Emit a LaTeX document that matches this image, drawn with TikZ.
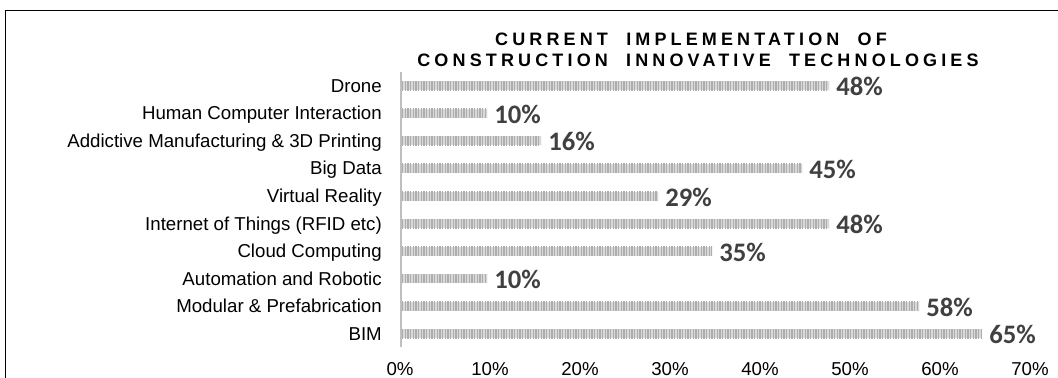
\documentclass[tikz,border=0pt]{standalone}
\usepackage{fontspec}
\setmainfont{Liberation Sans}
\newfontfamily\pctfont{Carlito}
\newfontfamily\titlefont[LetterSpace=23,WordSpace=2]{Liberation Sans Bold}
\usetikzlibrary{patterns.meta}
\definecolor{barbase}{HTML}{D9D9D9}
\definecolor{barline}{HTML}{ADADAD}
\definecolor{axisgray}{HTML}{BFBFBF}
\definecolor{pctgray}{HTML}{404040}
\tikzset{
  barstyle/.style={preaction={fill=barbase}, pattern={Lines[angle=90,distance=2pt,line width=0.8pt]}, pattern color=barline},
  catlabel/.style={anchor=base east, inner sep=0pt, font=\fontsize{14}{16}\selectfont},
  pctlabel/.style={anchor=base west, inner sep=0pt, text=pctgray, font=\pctfont\bfseries\fontsize{20}{22}\selectfont},
  ticklabel/.style={anchor=base, inner sep=0pt, font=\fontsize{14}{16}\selectfont},
  titletext/.style={anchor=base, inner sep=0pt, font=\titlefont\fontsize{13.5}{15}\selectfont},
  framestyle/.style={draw=black, line width=1.1pt}
}
\begin{document}
\begin{tikzpicture}[x=0.75pt,y=-0.75pt]
\useasboundingbox (0,0) rectangle (1058,378);
% frame
\coordinate (fbl) at (5.5,378);
\coordinate (ftl) at (5.5,10.5);
\coordinate (ftr) at (1058,10.5);
\draw[framestyle] (fbl) -- (ftl) -- (ftr);
% title
\node[titletext] (t1) at (691,46) {CURRENT IMPLEMENTATION OF};
\node[titletext] (t2) at (698,67) {CONSTRUCTION INNOVATIVE TECHNOLOGIES};
% bars
\foreach \lab/\v [count=\i from 0] in {
  {Drone}/48,
  {Human Computer Interaction}/10,
  {Addictive Manufacturing \& 3D Printing}/16,
  {Big Data}/45,
  {Virtual Reality}/29,
  {Internet of Things (RFID etc)}/48,
  {Cloud Computing}/35,
  {Automation and Robotic}/10,
  {Modular \& Prefabrication}/58,
  {BIM}/65}{
  \pgfmathsetmacro{\yc}{86+27.5*\i}
  \pgfmathsetmacro{\xe}{400+9*\v-3}
  \path[barstyle] (402,\yc-4.5) rectangle (\xe,\yc+4.5);
  \node[catlabel] (cat\i) at (382,\yc+6.5) {\lab};
  \node[pctlabel] (pct\i) at (\xe+7,\yc+10) {\v\%};
}
% axis
\coordinate (atop) at (401,72);
\coordinate (abot) at (401,347);
\draw[axisgray, line width=2.2pt] (atop) -- (abot);
% ticks
\foreach \t [count=\k from 0] in {0,10,...,70}{
  \node[ticklabel] (tick\k) at ({400+9*\t},375) {\t\%};
}
\end{tikzpicture}
\end{document}
